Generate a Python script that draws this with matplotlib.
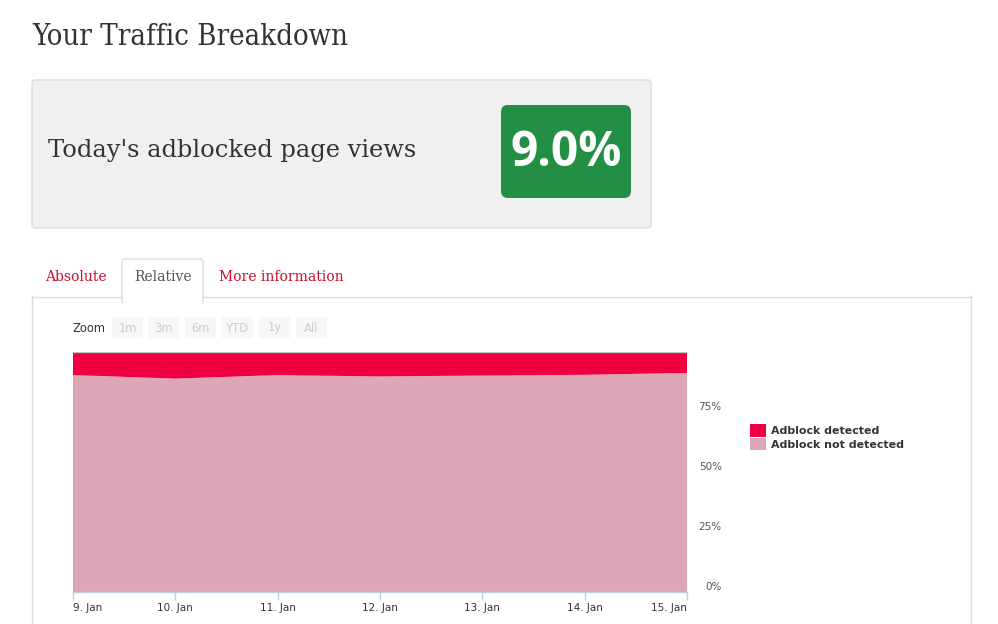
import matplotlib
matplotlib.use('Agg')
import matplotlib.pyplot as plt
from matplotlib.patches import FancyBboxPatch, Rectangle
from matplotlib.lines import Line2D
import matplotlib.transforms as mtransforms

W, H = 998, 624

# ---- data ----
dates = ['9. Jan', '10. Jan', '11. Jan', '12. Jan', '13. Jan', '14. Jan', '15. Jan']
adblock_detected = [9.6, 11.1, 9.6, 10.2, 9.8, 9.5, 8.7]
adblock_not_detected = [90.4, 88.9, 90.4, 89.8, 90.2, 90.5, 91.3]
y_ticks = [0, 25, 50, 75]
y_tick_labels = ['0%', '25%', '50%', '75%']
series_names = ['Adblock detected', 'Adblock not detected']
today_value = '9.0%'
zoom_buttons = ['1m', '3m', '6m', 'YTD', '1y', 'All']

RED = '#EE0040'
PINK = '#DDA7B8'
GREEN = '#228F45'
LINK = '#C8102E'
SERIF = ['DejaVu Serif']

fig = plt.figure(figsize=(W / 100, H / 100), dpi=100)
fig.patch.set_facecolor('white')

bg = fig.add_axes([0, 0, 1, 1])
bg.set_xlim(0, W)
bg.set_ylim(H, 0)
bg.axis('off')

# Title
bg.text(32, 37, 'Your Traffic Breakdown', fontsize=21, family=SERIF,
        color='#333333', va='center', ha='left', fontstretch='condensed')

# Gray box
bg.add_patch(FancyBboxPatch((32, 80), 619, 148, boxstyle='round,pad=0,rounding_size=3',
                            facecolor='#F0F0F0', edgecolor='#DCDCDC', lw=1))
bg.text(48, 150, "Today's adblocked page views", fontsize=17.4, family=SERIF,
        color='#333333', va='center', ha='left')
bg.add_patch(FancyBboxPatch((501, 105), 130, 93, boxstyle='round,pad=0,rounding_size=7',
                            facecolor=GREEN, edgecolor='none'))
bg.text(566, 153, today_value, fontsize=34.5, family=['Open Sans', 'DejaVu Sans'],
        weight='bold', color='white', va='center', ha='center')

# Panel
pc = '#DDDDDD'
bg.add_line(Line2D([32, 32], [296, H], color=pc, lw=1))
bg.add_line(Line2D([971, 971], [296, H], color=pc, lw=1))
bg.add_line(Line2D([32, 122], [296.5, 296.5], color=pc, lw=1))
bg.add_line(Line2D([203, 971], [296.5, 296.5], color=pc, lw=1))
# active tab
bg.add_patch(FancyBboxPatch((122, 259), 81, 45, boxstyle='round,pad=0,rounding_size=3',
                            facecolor='white', edgecolor=pc, lw=1))
bg.add_patch(Rectangle((122.8, 292), 79.5, 14, facecolor='white', edgecolor='none'))

bg.text(45, 277, 'Absolute', fontsize=10, family=SERIF, color=LINK, va='center', ha='left')
bg.text(163, 277, 'Relative', fontsize=10, family=SERIF, color='#555555', va='center', ha='center')
bg.text(219, 277, 'More information', fontsize=10, family=SERIF, color=LINK, va='center', ha='left')

# Zoom buttons
bg.text(73, 328, 'Zoom', fontsize=8.3, color='#333333', va='center', ha='left')
bx = [112, 148, 185, 222, 259, 296]
for x0, lab in zip(bx, zoom_buttons):
    bg.add_patch(Rectangle((x0, 317), 31, 21, facecolor='#F7F7F7', edgecolor='none'))
    bg.text(x0 + 15.5, 328, lab, fontsize=8.3, color='#CCCCCC', va='center', ha='center')

# ---- chart ----
ax = fig.add_axes([73 / W, (H - 592) / H, 614 / W, 240 / H])
ax.set_facecolor('none')
x = list(range(len(dates)))
ax.stackplot(x, adblock_not_detected, adblock_detected, colors=[PINK, RED],
             labels=[series_names[1], series_names[0]], lw=0)
ax.set_xlim(0, len(dates) - 1)
ax.set_ylim(0, 100)
ax.axhline(100, color='#C0C0C0', lw=1, zorder=5)
for s in ['top', 'left', 'right']:
    ax.spines[s].set_visible(False)
ax.spines['bottom'].set_color('#C0D0E0')
ax.spines['bottom'].set_linewidth(1)

ax.set_xticks(x)
ax.set_xticklabels(dates)
ax.tick_params(axis='x', direction='out', length=6, width=1, color='#C0D0E0',
               labelsize=7.5, labelcolor='#333333', pad=2)
labs = ax.get_xticklabels()
labs[0].set_ha('left')
labs[-1].set_ha('right')

ax.yaxis.tick_right()
ax.set_yticks(y_ticks)
ax.set_yticklabels(y_tick_labels)
ax.tick_params(axis='y', length=0, pad=25, labelsize=7.5, labelcolor='#555555')
off = mtransforms.ScaledTranslation(0, 6 / 100, fig.dpi_scale_trans)
for lab in ax.get_yticklabels():
    lab.set_ha('right')
    lab.set_transform(lab.get_transform() + off)

# Legend
bg.add_patch(Rectangle((750, 424), 16, 13, facecolor=RED, edgecolor='none'))
bg.add_patch(Rectangle((750, 438), 16, 12, facecolor=PINK, edgecolor='none'))
bg.text(771, 430.5, series_names[0], fontsize=7.9, weight='bold', color='#333333', va='center', ha='left')
bg.text(771, 444.5, series_names[1], fontsize=7.9, weight='bold', color='#333333', va='center', ha='left')

fig.savefig('out.png', dpi=100, facecolor='white')
